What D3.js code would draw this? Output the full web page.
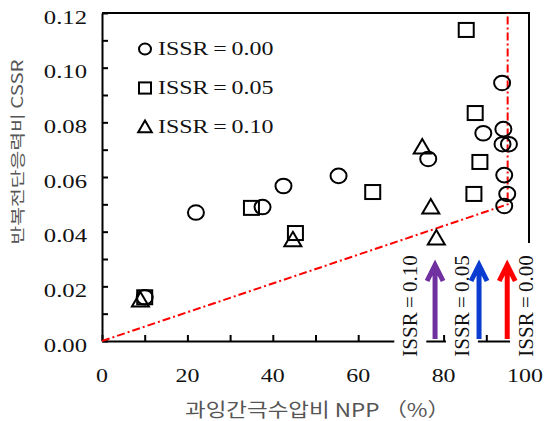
<!DOCTYPE html>
<html>
<head>
<meta charset="utf-8">
<script src="https://cdn.jsdelivr.net/npm/d3@7"></script>
<style>
  body { margin: 0; background: #fff; }
  .serif { font-family: "Liberation Serif", "Times New Roman", serif; fill: #111; }
  .kor { font-family: "Noto Sans CJK KR", sans-serif; fill: #555; }
</style>
</head>
<body>
<div id="chart"></div>
<script>
// ISSR = 0.00 (circles)
const npp00 = [10, 22, 37.6, 42.5, 55.4, 76.4, 89.3, 93.7, 94, 93.8, 95.3, 94.2, 94.9, 94.2]
const cssr00 = [0.016, 0.047, 0.049, 0.0567, 0.0604, 0.0666, 0.076, 0.0944, 0.0775, 0.072, 0.072, 0.0607, 0.0538, 0.0494]
// ISSR = 0.05 (squares)
const npp05 = [10, 35, 45.3, 63.4, 85.3, 87.4, 88.5, 87.1]
const cssr05 = [0.016, 0.0487, 0.0395, 0.0545, 0.1138, 0.0834, 0.0655, 0.0538]
// ISSR = 0.10 (triangles)
const npp10 = [9, 44.7, 75, 77, 78.3]
const cssr10 = [0.015, 0.037, 0.071, 0.049, 0.0377]

// red dash-dot boundary
const boundary = [[0, 0], [95, 0.05], [95, 0.12]]

// arrows below the boundary
const arrowNpp = [78, 88.3, 94.9]
const arrowColors = ["#7030a0", "#0a3cd2", "#ff0000"]
const arrowLabels = ["ISSR = 0.10", "ISSR = 0.05", "ISSR = 0.00"]
const arrowLabelNpp = [72.2, 84.3, 99.3]

const legendLabels = ["ISSR = 0.00", "ISSR = 0.05", "ISSR = 0.10"]
const xTickLabels = [0, 20, 40, 60, 80, 100]
const yTickLabels = [0, 0.02, 0.04, 0.06, 0.08, 0.10, 0.12]

const W = 546, H = 421
const svg = d3.select("#chart").append("svg")
    .attr("width", W)
    .attr("height", H)

const x = d3.scaleLinear().domain([0, 100]).range([102, 529])
const y = d3.scaleLinear().domain([0, 0.12]).range([341, 13])

// axes with inward ticks
svg.append("g")
  .attr("transform", "translate(0," + y(0) + ")")
  .call(d3.axisBottom(x).tickValues(d3.range(0, 101, 10)).tickSize(-6).tickSizeOuter(0).tickFormat(""))
  .call(g => g.selectAll("path, line").attr("stroke", "#000").attr("stroke-width", 2))

svg.append("g")
  .attr("transform", "translate(" + x(0) + ",0)")
  .call(d3.axisLeft(y).tickValues(d3.range(0, 0.125, 0.01)).tickSize(-6).tickSizeOuter(0).tickFormat(""))
  .call(g => g.selectAll("path, line").attr("stroke", "#000").attr("stroke-width", 2))

// frame top and right
svg.append("path")
  .attr("d", `M${x(0)},${y(0.12)}H${x(100)}V${y(0)}`)
  .attr("fill", "none")
  .attr("stroke", "#000")
  .attr("stroke-width", 2)

// tick labels (stretched serif like the original)
svg.selectAll(".xlab")
  .data(xTickLabels)
  .join("text")
  .attr("class", "serif")
  .attr("font-size", 19)
  .attr("text-anchor", "middle")
  .attr("transform", d => `translate(${x(d) - (d === 100 ? 4 : 0)},382) scale(1.26,1)`)
  .text(d => d)

svg.selectAll(".ylab")
  .data(yTickLabels)
  .join("text")
  .attr("class", "serif")
  .attr("font-size", 19)
  .attr("text-anchor", "end")
  .attr("dy", "0.35em")
  .attr("transform", d => `translate(87,${y(d) + 4}) scale(1.3,1)`)
  .text(d => d.toFixed(2))

// axis titles
svg.append("text")
  .attr("class", "kor")
  .attr("x", 185)
  .attr("y", 417)
  .attr("font-size", 19)
  .attr("textLength", 265)
  .attr("lengthAdjust", "spacingAndGlyphs")
  .text("과잉간극수압비 NPP （%）")

svg.append("text")
  .attr("class", "kor")
  .attr("font-size", 18)
  .attr("text-anchor", "middle")
  .attr("dy", "0.35em")
  .attr("textLength", 185)
  .attr("lengthAdjust", "spacingAndGlyphs")
  .attr("transform", "translate(18,152) rotate(-90) scale(1,0.85)")
  .text("반복전단응력비 CSSR")

// boundary line
svg.append("path")
  .datum(boundary)
  .attr("d", d3.line().x(d => x(d[0])).y(d => y(d[1])))
  .attr("fill", "none")
  .attr("stroke", "#ff0000")
  .attr("stroke-width", 2)
  .attr("stroke-dasharray", "8,3,2,3")

// marker shapes
function circleAt(g, cx, cy, s) {
  g.append("ellipse").attr("cx", cx).attr("cy", cy).attr("rx", 8 * s).attr("ry", 7.3 * s)
}
function squareAt(g, cx, cy, s) {
  g.append("rect").attr("x", cx - 7.5 * s).attr("y", cy - 7 * s).attr("width", 15 * s).attr("height", 14 * s)
}
function triangleAt(g, cx, cy, s) {
  g.append("path").attr("d", `M${cx},${cy - 8 * s}L${cx + 8.5 * s},${cy + 6.5 * s}L${cx - 8.5 * s},${cy + 6.5 * s}Z`)
}

const marks = svg.append("g")
  .attr("fill", "none")
  .attr("stroke", "#000")
  .attr("stroke-width", 2)

npp00.forEach((d, i) => circleAt(marks, x(d), y(cssr00[i]), 1))
npp05.forEach((d, i) => squareAt(marks, x(d), y(cssr05[i]), 1))
npp10.forEach((d, i) => triangleAt(marks, x(d), y(cssr10[i]), 1))

// legend
const legendY = [49, 88, 127]
const legendFns = [circleAt, squareAt, triangleAt]
legendFns.forEach((fn, i) => fn(marks, 145, legendY[i], i === 0 ? 0.75 : 0.8))
svg.selectAll(".leg")
  .data(legendLabels)
  .join("text")
  .attr("class", "serif")
  .attr("font-size", 18)
  .attr("transform", (d, i) => `translate(158,${legendY[i] + 6}) scale(1.33,1)`)
  .text(d => d.replace(/ /g, "\u2009"))

// white label boxes covering the axis, then rotated labels
const boxes = svg.append("g")
arrowLabelNpp.forEach((d, i) => {
  boxes.append("rect")
    .attr("x", x(d) - 16)
    .attr("y", i === 2 ? 243 : 250)
    .attr("width", i === 2 ? 30 : 32)
    .attr("height", 115)
    .attr("fill", "#fff")
})
svg.selectAll(".alab")
  .data(arrowLabels)
  .join("text")
  .attr("class", "serif")
  .attr("font-size", 20)
  .attr("text-anchor", "middle")
  .attr("dy", "0.35em")
  .attr("transform", (d, i) => `translate(${x(arrowLabelNpp[i])},306) rotate(-90) scale(1.05,1)`)
  .text(d => d.replace(/ /g, "\u2009"))

// arrows
arrowNpp.forEach((d, i) => {
  const ax = x(d)
  svg.append("path")
    .attr("d", `M${ax},339V265M${ax - 8},281L${ax},265L${ax + 8},281`)
    .attr("fill", "none")
    .attr("stroke", arrowColors[i])
    .attr("stroke-width", 5)
})
</script>
</body>
</html>
